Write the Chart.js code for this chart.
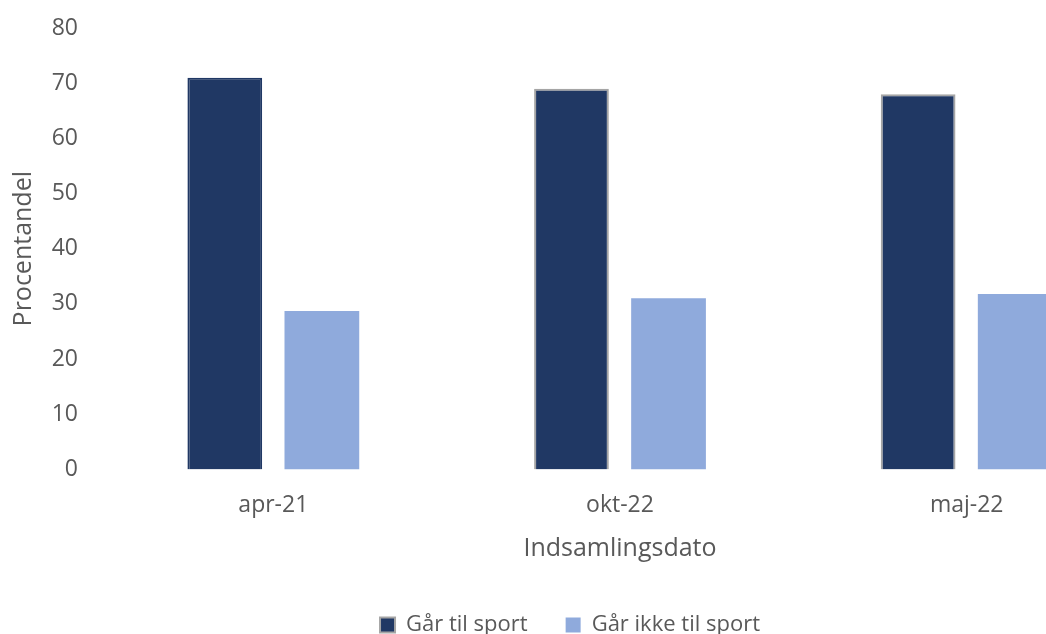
<!DOCTYPE html>
<html>
<head>
<meta charset="utf-8">
<script src="https://cdn.jsdelivr.net/npm/chart.js@4"></script>
<style>
  body { margin: 0; overflow: hidden; background: #fff; }
  #wrap { width: 1150px; height: 634px; }
</style>
</head>
<body>
<div id="wrap"><canvas id="myChart"></canvas></div>
<script>
const xValues = ["apr-21", "okt-22", "maj-22"];
const gaarTilSport = [71, 69, 68];
const gaarIkkeTilSport = [28.7, 31, 31.8];
const yTicks = [0, 10, 20, 30, 40, 50, 60, 70, 80];

const dark = "#203864";
const light = "#8FAADC";
const grey = "#595959";

Chart.defaults.font.family = "'Open Sans', 'Liberation Sans', sans-serif";
Chart.defaults.color = grey;

new Chart("myChart", {
  type: "bar",
  data: {
    labels: xValues,
    datasets: [{
      label: "Går til sport",
      data: gaarTilSport,
      backgroundColor: dark,
      borderColor: [dark, "#A5A5A5", "#A5A5A5"],
      borderWidth: 2,
      categoryPercentage: 0.56,
      barPercentage: 0.77
    }, {
      label: "Går ikke til sport",
      data: gaarIkkeTilSport,
      backgroundColor: light,
      borderWidth: 0,
      categoryPercentage: 0.56,
      barPercentage: 0.77
    }]
  },
  options: {
    responsive: true,
    maintainAspectRatio: false,
    animation: false,
    layout: { padding: { left: 0, right: 10, top: 28, bottom: -12 } },
    plugins: {
      tooltip: { enabled: false },
      legend: {
        position: "bottom",
        labels: {
          font: { size: 22 },
          boxWidth: 15,
          boxHeight: 15,
          padding: 38,
          generateLabels: function (chart) {
            return [
              { text: "Går til sport", fillStyle: dark, strokeStyle: "#A5A5A5", lineWidth: 2, fontColor: grey, datasetIndex: 0 },
              { text: "Går ikke til sport", fillStyle: light, strokeStyle: light, lineWidth: 0, fontColor: grey, datasetIndex: 1 }
            ];
          }
        }
      }
    },
    scales: {
      x: {
        grid: { display: false, drawTicks: false },
        border: { display: false },
        ticks: { font: { size: 23 }, padding: 22 },
        title: { display: true, text: "Indsamlingsdato", font: { size: 25 }, padding: { top: -7, bottom: 12 } }
      },
      y: {
        min: 0,
        max: 80,
        afterBuildTicks: function (axis) {
          axis.ticks = yTicks.map(v => ({ value: v }));
        },
        grid: { display: false, drawTicks: false },
        border: { display: false },
        ticks: { font: { size: 23 }, padding: 22 },
        title: { display: true, text: "Procentandel", font: { size: 25 }, padding: { top: 9, bottom: 0 } },
        afterFit: function (axis) {
          axis.width = 100;
          axis.paddingTop = 0;
          axis.paddingBottom = 0;
        }
      }
    }
  }
});
</script>
</body>
</html>
